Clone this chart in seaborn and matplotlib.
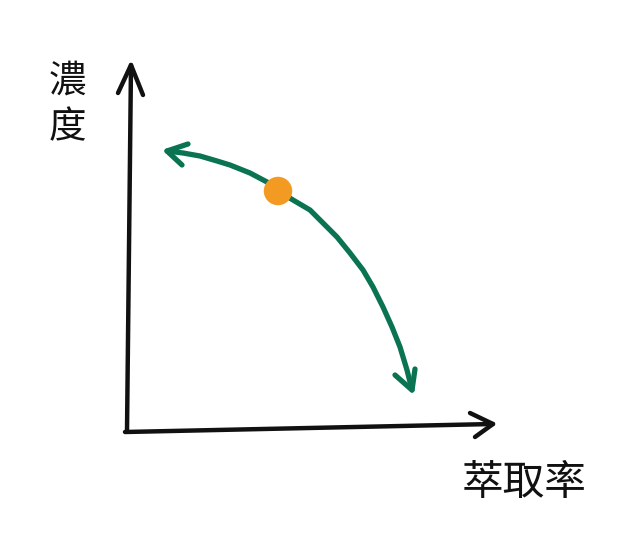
import matplotlib
matplotlib.use("Agg")
import matplotlib.pyplot as plt
import seaborn as sns
import pandas as pd

# Data (origin of the hand-drawn axes at 0,0; units ~ pixels)
extraction = [40, 56, 73, 90, 103, 123, 140, 151, 166, 183, 196, 210, 223,
              236, 246, 256, 265, 273, 280, 285]
concentration = [280, 278, 275, 270, 266, 258, 249, 240, 231, 221, 208, 194,
                 178, 161, 144, 124, 104, 84, 61, 41]
current_x = [151]
current_y = [240]
x_label = "萃取率"
y_label = "濃度"

sns.set_theme(style="white")
plt.rcParams['font.family'] = ['Noto Sans CJK TC', 'DejaVu Sans']

fig = plt.figure(figsize=(6.22, 5.45), dpi=100)
ax = fig.add_axes([0, 0, 1, 1])
ax.set_xlim(-127, 495)
ax.set_ylim(-114, 431)
ax.axis("off")

black = "#111111"
green = "#0a7352"
orange = "#f39a22"

# axes lines
ax.plot([0, 4], [0, 366], color=black, lw=3.2, solid_capstyle="round")
ax.plot([-9, 4, 16], [338, 366, 336], color=black, lw=3.2,
        solid_capstyle="round", solid_joinstyle="round")
ax.plot([-2, 366], [-1, 7], color=black, lw=3.2, solid_capstyle="round")
ax.plot([343, 366, 348], [18, 7, -6], color=black, lw=3.2,
        solid_capstyle="round", solid_joinstyle="round")

# curve
df = pd.DataFrame({"x": extraction, "y": concentration})
sns.lineplot(data=df, x="x", y="y", sort=False, color=green, lw=3.8, ax=ax)
ax.lines[-1].set_solid_capstyle("round")
ax.lines[-1].set_solid_joinstyle("round")
# arrowheads
ax.plot([61, extraction[0], 55], [287, concentration[0], 266], color=green,
        lw=3.8, solid_capstyle="round", solid_joinstyle="round")
ax.plot([268, extraction[-1], 288], [56, concentration[-1], 62], color=green,
        lw=3.8, solid_capstyle="round", solid_joinstyle="round")

sns.scatterplot(x=current_x, y=current_y, s=420, color=orange,
                edgecolor="none", ax=ax, zorder=5)

# labels
for i, ch in enumerate(y_label):
    ax.text(-60, 350 - i * 47, ch, fontsize=27, ha="center", va="center",
            color=black)
ax.text(397, -52, x_label, fontsize=30, ha="center", va="center",
        color=black)

fig.savefig("out.png", dpi=100, facecolor="white")
